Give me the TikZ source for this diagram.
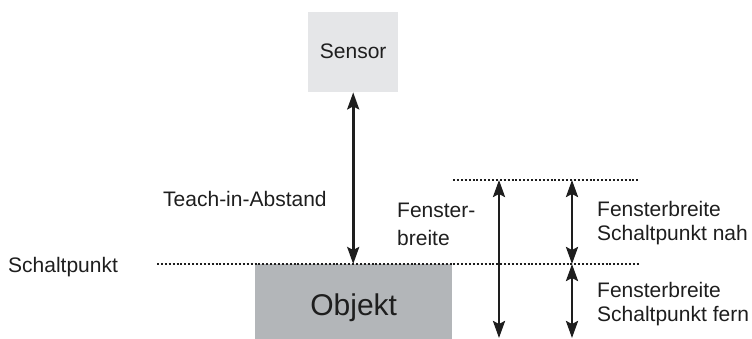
\documentclass[tikz,border=0pt]{standalone}
\usepackage{fontspec}
\setmainfont{Liberation Sans}
\usetikzlibrary{arrows.meta}
\definecolor{sensorgray}{HTML}{E5E6E8}
\definecolor{objektgray}{HTML}{B3B6B9}
\definecolor{ink}{HTML}{1E1E1E}
\tikzstyle{box} = [rectangle, inner sep=0pt, anchor=north west, text depth=0pt]
\tikzstyle{lbl} = [inner sep=0pt, anchor=base west, text=ink,
    font=\fontsize{21}{24}\selectfont]
\tikzstyle{dots} = [line width=2pt, dash pattern=on 2pt off 1.9pt]
\tikzstyle{dim} = [<->, line width=2.6pt]

\begin{document}
\begin{tikzpicture}[x=1pt,y=-1pt,>={Stealth[length=17pt,width=12pt,inset=3pt]},
                    draw=ink,color=ink]
  \useasboundingbox (0,0) rectangle (752,339);

  % boxes
  \node[box,fill=sensorgray,minimum width=90pt,minimum height=80pt,
        text height=13pt,font=\fontsize{21}{24}\selectfont]
        (sensor) at (308,12) {Sensor};
  \node[box,fill=objektgray,minimum width=197pt,minimum height=75pt,
        text height=27pt,font=\fontsize{30}{34}\selectfont]
        (objekt) at (255,264) {Objekt};

  % switching point and window lines
  \coordinate (spl) at (157,264);
  \coordinate (spr) at (640,264);
  \coordinate (fbl) at (453,180);
  \coordinate (fbr) at (640,180);
  \draw[dots] (spl) -- (spr);
  \draw[dots] (fbl) -- (fbr);

  % arrows
  \coordinate (aot) at (499,180);
  \coordinate (aob) at (499,338);
  \coordinate (att) at (572,180);
  \coordinate (atm) at (572,264);
  \coordinate (atb) at (572,338);
  \draw[dim] (sensor.south) -- (sensor.south |- spl);
  \draw[dim] (aot) -- (aob);
  \draw[dim] (att) -- (atm);
  \draw[dim] (atm) -- (atb);

  % labels
  \node[lbl] (teach)  at (163,207) {Teach-in-Abstand};
  \node[lbl] (schalt) at (8,272)   {Schaltpunkt};
  \node[lbl,align=left,anchor=north west,font=\fontsize{21}{28}\selectfont]
        (fenster) at (397,203) {Fenster-\\breite};
  \node[lbl,align=left,anchor=north west] (nah)  at (597,201) {Fensterbreite\\Schaltpunkt nah};
  \node[lbl,align=left,anchor=north west] (fern) at (597,282) {Fensterbreite\\Schaltpunkt fern};
\end{tikzpicture}
\end{document}
